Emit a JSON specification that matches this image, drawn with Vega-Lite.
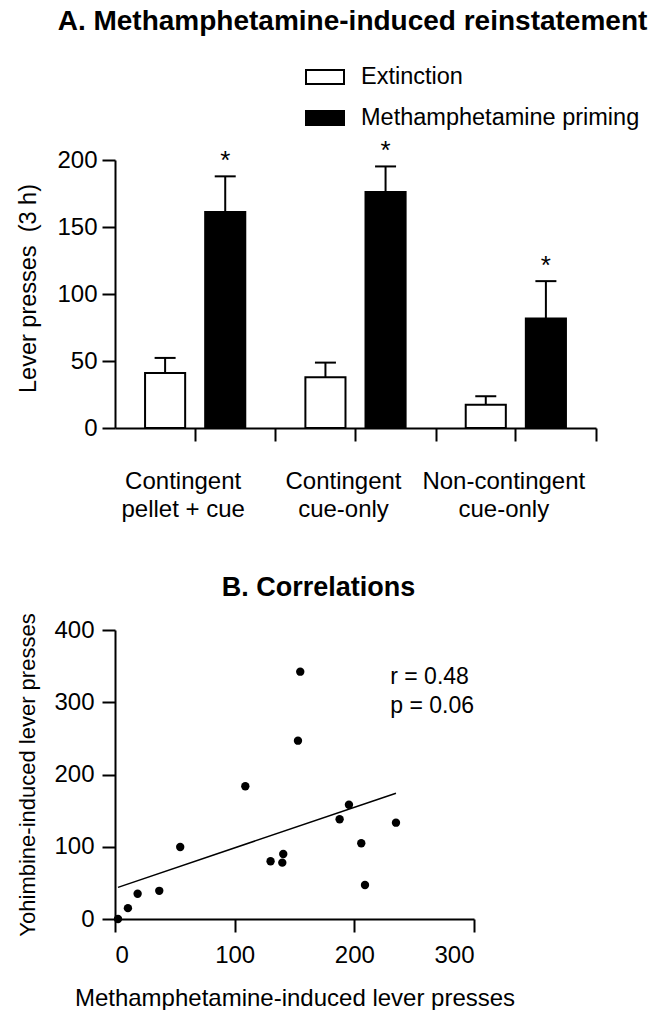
{
  "$schema": "https://vega.github.io/schema/vega-lite/v6.json",
  "background": "white",
  "padding": {"left": 16, "top": 8, "right": 5, "bottom": 0},
  "spacing": 52,
  "config": {
    "font": "Liberation Sans",
    "view": {"stroke": null},
    "axis": {
      "domainColor": "black", "domainWidth": 2, "tickColor": "black", "tickWidth": 2, "tickSize": 13,
      "labelColor": "black", "titleColor": "black", "grid": false,
      "labelFont": "Liberation Sans", "titleFont": "Liberation Sans", "titleFontWeight": "normal",
      "labelFontSize": 24, "titleFontSize": 22
    },
    "title": {"font": "Liberation Sans", "fontSize": 28, "fontWeight": "bold", "color": "black"}
  },
  "datasets": {
    "bars": [
      {"group": "Contingent pellet + cue", "condition": "Extinction", "mean": 41.1, "upper": 52.3},
      {"group": "Contingent pellet + cue", "condition": "Methamphetamine priming", "mean": 161.2, "upper": 187.8},
      {"group": "Contingent cue-only", "condition": "Extinction", "mean": 37.9, "upper": 48.8},
      {"group": "Contingent cue-only", "condition": "Methamphetamine priming", "mean": 176.1, "upper": 195.2},
      {"group": "Non-contingent cue-only", "condition": "Extinction", "mean": 17.4, "upper": 23.7},
      {"group": "Non-contingent cue-only", "condition": "Methamphetamine priming", "mean": 81.7, "upper": 109.6}
    ],
    "points": [
      {"meth": 2.5, "yoh": 0},
      {"meth": 10.8, "yoh": 15},
      {"meth": 18.9, "yoh": 35},
      {"meth": 37, "yoh": 39},
      {"meth": 54.5, "yoh": 99.7},
      {"meth": 108.9, "yoh": 183.7},
      {"meth": 130, "yoh": 80},
      {"meth": 139.8, "yoh": 78},
      {"meth": 140.6, "yoh": 90},
      {"meth": 152.9, "yoh": 246.8},
      {"meth": 154.8, "yoh": 342.3},
      {"meth": 187.7, "yoh": 138},
      {"meth": 195.5, "yoh": 158.2},
      {"meth": 205.8, "yoh": 104.8},
      {"meth": 208.9, "yoh": 47},
      {"meth": 234.8, "yoh": 133.3}
    ],
    "stats": [{"r": "r = 0.48", "p": "p = 0.06"}]
  },
  "vconcat": [
    {
      "width": 481,
      "height": 268,
      "title": {"text": "A. Methamphetamine-induced reinstatement", "frame": "group", "anchor": "middle", "baseline": "alphabetic", "offset": 80, "dx": -3},
      "data": {"name": "bars"},
      "resolve": {"axis": {"x": "independent"}},
      "layer": [
        {
          "mark": {"type": "bar", "stroke": "black", "strokeWidth": 2},
          "encoding": {
            "x": {
              "field": "group", "type": "nominal", "sort": null,
              "scale": {"paddingInner": 0, "paddingOuter": 0},
              "axis": {
                "orient": "bottom", "title": null, "labelAngle": 0, "labelPadding": 28, "labelLineHeight": 28, "labelOffset": -12,
                "labelBaseline": "top",
                "labelExpr": "[split(datum.value, ' ')[0], join(slice(split(datum.value, ' '), 1), ' ')]"
              }
            },
            "xOffset": {"field": "condition", "type": "nominal", "sort": null, "scale": {"paddingInner": 0.333, "paddingOuter": 0.5}},
            "y": {
              "field": "mean", "type": "quantitative",
              "scale": {"domain": [0, 200], "nice": false},
              "axis": {"values": [0, 50, 100, 150, 200], "title": "Lever presses\u00a0 (3 h)", "titleFontSize": 23.5, "labelPadding": 5, "titlePadding": 16, "titleY": 128}
            },
            "color": {
              "field": "condition", "type": "nominal", "sort": null,
              "scale": {"domain": ["Extinction", "Methamphetamine priming"], "range": ["white", "black"]},
              "legend": {
                "orient": "none", "legendX": 190, "legendY": -103, "title": null, "padding": 0,
                "symbolType": "M-1,-0.368H1V0.368H-1Z", "symbolSize": 1444,
                "symbolStrokeColor": "black", "symbolStrokeWidth": 2, "symbolOpacity": 1,
                "labelFontSize": 23.5, "labelFont": "Liberation Sans", "labelColor": "black",
                "labelOffset": 16, "labelLimit": 500, "rowPadding": 9
              }
            }
          }
        },
        {
          "mark": {"type": "rule", "strokeWidth": 2, "color": "black"},
          "encoding": {
            "x": {
              "field": "group", "type": "nominal", "sort": null,
              "axis": {"orient": "bottom", "title": null, "labels": false, "domain": false, "tickBand": "extent", "values": ["Contingent cue-only", "Non-contingent cue-only"]}
            },
            "xOffset": {"field": "condition", "type": "nominal", "sort": null},
            "y": {"field": "mean", "type": "quantitative"},
            "y2": {"field": "upper"}
          }
        },
        {
          "mark": {"type": "tick", "color": "black", "thickness": 2, "size": 21, "opacity": 1},
          "encoding": {
            "x": {"field": "group", "type": "nominal", "sort": null, "axis": null},
            "xOffset": {"field": "condition", "type": "nominal", "sort": null},
            "y": {"field": "upper", "type": "quantitative"}
          }
        },
        {
          "transform": [{"filter": "datum.condition == 'Methamphetamine priming'"}],
          "mark": {"type": "text", "fontSize": 26, "dy": -7, "baseline": "alphabetic", "color": "black"},
          "encoding": {
            "x": {"field": "group", "type": "nominal", "sort": null, "axis": null},
            "xOffset": {"field": "condition", "type": "nominal", "sort": null},
            "y": {"field": "upper", "type": "quantitative"},
            "text": {"value": "*"}
          }
        }
      ]
    },
    {
      "width": 359,
      "height": 289,
      "title": {"text": "B. Correlations", "frame": "group", "anchor": "middle", "baseline": "alphabetic", "offset": 0, "dy": 10, "dx": 24, "fontSize": 27},
      "data": {"name": "points"},
      "layer": [
        {
          "mark": {"type": "point", "filled": true, "color": "black", "size": 70, "opacity": 1},
          "encoding": {
            "x": {
              "field": "meth", "type": "quantitative",
              "scale": {"domain": [0, 300], "nice": false},
              "axis": {"values": [0, 100, 200, 300], "title": "Methamphetamine-induced lever presses", "labelPadding": 11, "titlePadding": 19, "titleFontSize": 24}
            },
            "y": {
              "field": "yoh", "type": "quantitative",
              "scale": {"domain": [0, 400], "nice": false},
              "axis": {"values": [0, 100, 200, 300, 400], "title": "Yohimbine-induced lever presses", "labelPadding": 8, "titlePadding": 14}
            }
          }
        },
        {
          "transform": [{"regression": "yoh", "on": "meth"}],
          "mark": {"type": "line", "color": "black", "strokeWidth": 1.5},
          "encoding": {"x": {"field": "meth", "type": "quantitative"}, "y": {"field": "yoh", "type": "quantitative"}}
        },
        {
          "data": {"name": "stats"},
          "mark": {"type": "text", "align": "left", "baseline": "alphabetic", "fontSize": 23, "color": "black"},
          "encoding": {"x": {"datum": 230}, "y": {"datum": 325}, "text": {"field": "r"}}
        },
        {
          "data": {"name": "stats"},
          "mark": {"type": "text", "align": "left", "baseline": "alphabetic", "fontSize": 23, "color": "black"},
          "encoding": {"x": {"datum": 230}, "y": {"datum": 285}, "text": {"field": "p"}}
        }
      ]
    }
  ]
}
